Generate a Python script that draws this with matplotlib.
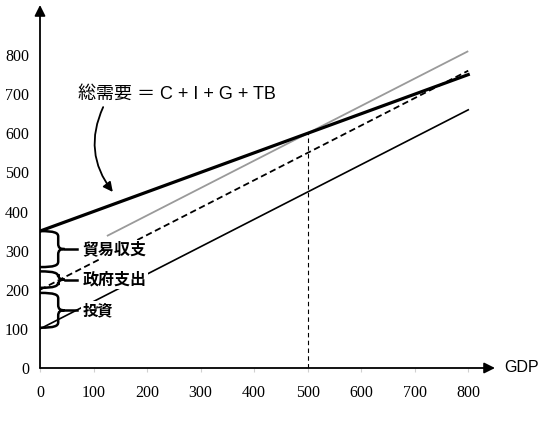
import numpy as np
import matplotlib.pyplot as plt
from matplotlib.path import Path
from matplotlib.patches import PathPatch

# data
gdp = [0, 800]
total_demand = [350, 750]   # C + I + G + TB
gray_gdp = [125, 800]
gray_line = [337.5, 810]
cig_line = [200, 760]       # C + I + G
ci_line = [100, 660]        # C + I
eq_gdp = 500
eq_demand = 600

x_ticks = [0, 100, 200, 300, 400, 500, 600, 700, 800]
y_ticks = [0, 100, 200, 300, 400, 500, 600, 700, 800]

braces = [  # (top, bottom, label)
    (350, 258, '貿易収支'),
    (247, 205, '政府支出'),
    (192, 103, '投資'),
]

jp = ['Noto Sans CJK JP', 'DejaVu Sans']

fig = plt.figure(figsize=(5.43, 4.24), dpi=100)
ax = fig.add_axes([40 / 543, 56 / 424, 455 / 543, 363 / 424])
ax.set_xlim(0, 850)
ax.set_ylim(0, 928)
for s in ax.spines.values():
    s.set_visible(False)

# lines
ax.plot(gray_gdp, gray_line, color='#9a9a9a', lw=1.3, zorder=2, solid_capstyle='butt')
ax.plot(gdp, ci_line, color='black', lw=1.2, zorder=2)
ax.plot(gdp, cig_line, color='black', lw=1.3, ls=(0, (3.5, 2)), zorder=2)
ax.plot(gdp, total_demand, color='black', lw=2.3, zorder=2)
ax.plot([eq_gdp, eq_gdp], [0, eq_demand], color='black', lw=0.8,
        ls=(0, (4, 3)), zorder=2)

# axes with arrows
ax.annotate('', xy=(850, 0), xytext=(0, 0), annotation_clip=False,
            arrowprops=dict(arrowstyle='-|>', lw=1.3, color='black',
                            mutation_scale=16, shrinkA=0, shrinkB=0))
ax.annotate('', xy=(0, 928), xytext=(0, 0), annotation_clip=False,
            arrowprops=dict(arrowstyle='-|>', lw=1.3, color='black',
                            mutation_scale=16, shrinkA=0, shrinkB=0))
ax.text(868, 0, 'GDP', fontsize=11.5, family='Liberation Sans',
        ha='left', va='center', clip_on=False)

ax.set_xticks(x_ticks)
ax.set_yticks(y_ticks)
ax.tick_params(axis='x', length=3, color='#d0d0d0', pad=9)
ax.tick_params(axis='y', length=0, pad=8)
for lab in ax.get_xticklabels() + ax.get_yticklabels():
    lab.set_family('Liberation Serif')
    lab.set_fontsize(11.5)


# curly braces on the vertical axis
def draw_brace(top, bottom, w=34, tip=46, r=14):
    mid = (top + bottom) / 2
    verts = [
        (0, top), (w * 0.8, top), (w, top - r * 0.3), (w, top - r),
        (w, mid + r),
        (w, mid + r * 0.2), (w + 4, mid), (tip, mid),
        (w + 4, mid), (w, mid - r * 0.2), (w, mid - r),
        (w, bottom + r),
        (w, bottom + r * 0.3), (w * 0.8, bottom), (0, bottom),
    ]
    codes = [Path.MOVETO, Path.CURVE4, Path.CURVE4, Path.CURVE4,
             Path.LINETO,
             Path.CURVE4, Path.CURVE4, Path.CURVE4,
             Path.CURVE4, Path.CURVE4, Path.CURVE4,
             Path.LINETO,
             Path.CURVE4, Path.CURVE4, Path.CURVE4]
    ax.add_patch(PathPatch(Path(verts, codes), fill=False, lw=1.8,
                           color='black', zorder=4, clip_on=False))
    ax.plot([tip, 69], [mid, mid], color='black', lw=1.8, zorder=4)
    return mid


for top, bottom, label in braces:
    mid = draw_brace(top, bottom)
    ax.text(80, mid, label, family=jp, fontsize=11.5 if len(label) > 2 else 11,
            fontweight='bold', ha='left', va='center', zorder=3,
            bbox=dict(facecolor='white', edgecolor='none', pad=1))

# total demand label with curved arrow
ax.text(71, 700, '総需要 ＝ C + I + G + TB',
        family=['Liberation Sans', 'Noto Sans CJK JP'], fontsize=13,
        ha='left', va='center', zorder=5)
ax.annotate('', xy=(136, 450), xytext=(118, 667),
            arrowprops=dict(arrowstyle='-|>', lw=1.3, color='black',
                            mutation_scale=14, shrinkA=0, shrinkB=0,
                            connectionstyle='arc3,rad=0.3'))

fig.savefig('out.png', dpi=100)
